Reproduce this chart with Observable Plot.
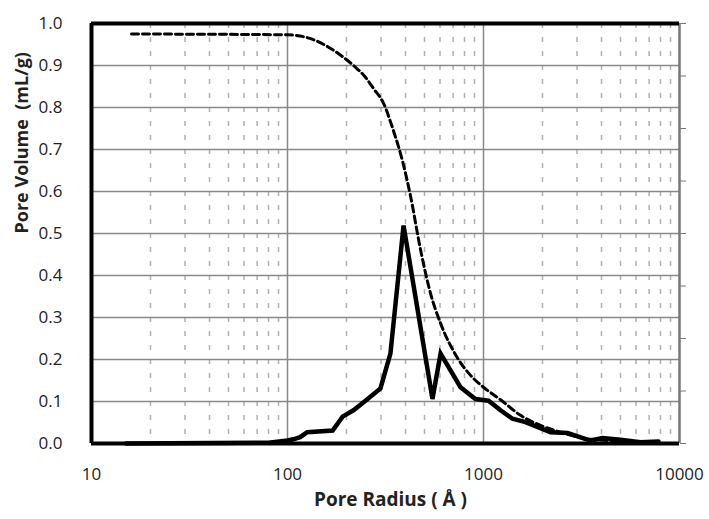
<!DOCTYPE html>
<html>
<head>
<meta charset="utf-8">
<script src="https://cdn.jsdelivr.net/npm/d3@7"></script>
<script src="https://cdn.jsdelivr.net/npm/@observablehq/plot@0.6"></script>
<style>
  html, body { margin: 0; padding: 0; background: #fff; }
  svg text { white-space: pre; }
  svg g[aria-label="x-axis tick label"], svg g[aria-label="y-axis tick label"] { font-size: 17px; }
</style>
</head>
<body>
<div id="chart"></div>
<script>
// Differential pore volume (solid line)
const radiusSolid = [15, 80, 100, 107, 116, 126, 170, 191, 217, 250, 298, 335, 391, 549, 604, 763, 910, 1061, 1222, 1406, 1637, 2198, 2684, 3515, 4047, 5000, 6325, 7816];
const volumeSolid = [0.0, 0.002, 0.007, 0.01, 0.015, 0.027, 0.031, 0.064, 0.079, 0.102, 0.131, 0.214, 0.519, 0.106, 0.214, 0.134, 0.106, 0.102, 0.079, 0.059, 0.051, 0.027, 0.025, 0.007, 0.013, 0.009, 0.003, 0.005];
// Cumulative pore volume (dashed line)
const radiusDashed = [16, 100, 131, 186, 217, 250, 275, 309, 347, 385, 424, 477, 537, 604, 734, 889, 1000, 1222, 1545, 1954, 2472, 3515, 5000, 7816];
const volumeDashed = [0.975, 0.973, 0.964, 0.925, 0.9, 0.872, 0.845, 0.81, 0.745, 0.675, 0.59, 0.462, 0.357, 0.286, 0.205, 0.155, 0.134, 0.104, 0.067, 0.043, 0.027, 0.01, 0.006, 0.004];
// Axis ticks and labels
const xTicks = [10, 100, 1000, 10000];
const yTicks = [0, 0.1, 0.2, 0.3, 0.4, 0.5, 0.6, 0.7, 0.8, 0.9, 1.0];
const minorX = [20,30,40,50,60,70,80,90,200,300,400,500,600,700,800,900,2000,3000,4000,5000,6000,7000,8000,9000];
const rightTicks = [0, 0.125, 0.25, 0.375, 0.5, 0.625, 0.75, 0.875, 1.0];
const xLabel = "Pore Radius ( Å )";
const yLabel = "Pore Volume  (mL/g)";

const solid = radiusSolid.map((r, i) => ({r, v: volumeSolid[i]}));
const dashed = radiusDashed.map((r, i) => ({r, v: volumeDashed[i]}));

const chart = Plot.plot({
  width: 709,
  height: 519,
  marginLeft: 91,
  marginRight: 30,
  marginTop: 23,
  marginBottom: 76,
  style: {fontFamily: "Open Sans, sans-serif", fontSize: "17px", color: "#222", background: "#fff"},
  x: {type: "log", domain: [10, 10000]},
  y: {domain: [0, 1]},
  marks: [
    Plot.ruleX(minorX, {stroke: "#b0b0b0", strokeWidth: 1.5, strokeDasharray: "5,9"}),
    Plot.ruleX([100, 1000], {stroke: "#888", strokeWidth: 1.5}),
    Plot.ruleY(yTicks.slice(1, -1), {stroke: "#888", strokeWidth: 1.5}),
    Plot.axisX({ticks: xTicks, tickFormat: d3.format("d"), tickSize: 0, tickPadding: 24, label: null, fontSize: 17}),
    Plot.axisY({ticks: yTicks, tickFormat: d3.format(".1f"), tickSize: 0, tickPadding: 29, label: null, fontSize: 17}),
    Plot.axisY({anchor: "right", ticks: rightTicks, tickFormat: () => "", tickSize: 6, stroke: "#777", label: null}),
    Plot.text([xLabel], {frameAnchor: "bottom", dx: 5, dy: 62, fontWeight: "bold", fontSize: 19, fill: "#222"}),
    Plot.text([yLabel], {frameAnchor: "left", dx: -69, dy: 0, rotate: -90, fontWeight: "bold", fontSize: 18, fill: "#222"}),
    Plot.ruleX([10000], {stroke: "#777", strokeWidth: 2.5}),
    Plot.line(dashed, {x: "r", y: "v", stroke: "#000", strokeWidth: 3, strokeDasharray: "7,4", curve: "monotone-x"}),
    Plot.line(solid, {x: "r", y: "v", stroke: "#000", strokeWidth: 4.5, strokeLinejoin: "miter", strokeMiterlimit: 4}),
    Plot.ruleY([0], {stroke: "#000", strokeWidth: 4}),
    Plot.ruleY([1], {stroke: "#000", strokeWidth: 4}),
    Plot.ruleX([10], {stroke: "#000", strokeWidth: 4})
  ]
});
document.getElementById("chart").appendChild(chart);
</script>
</body>
</html>
